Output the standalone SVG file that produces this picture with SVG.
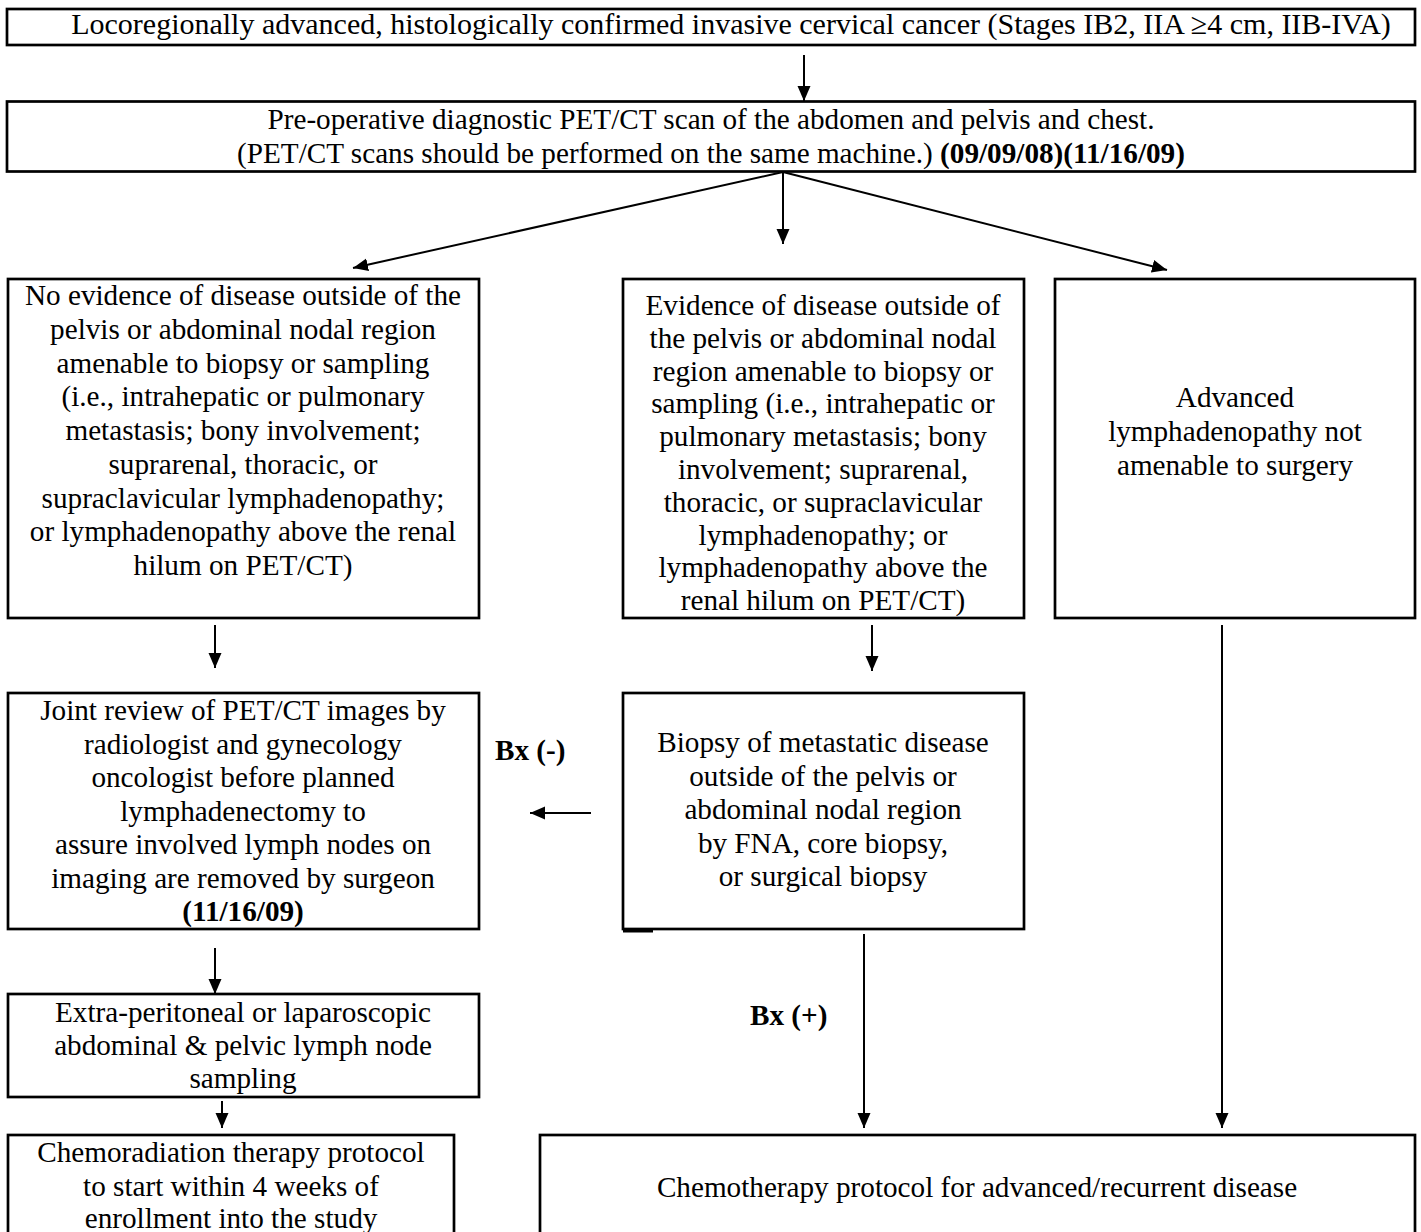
<svg xmlns="http://www.w3.org/2000/svg" width="1421" height="1232" viewBox="0 0 1421 1232">
<defs>
<marker id="ah" markerUnits="userSpaceOnUse" markerWidth="16" markerHeight="14" refX="15" refY="6.5" orient="auto">
<path d="M0,0 L15,6.5 L0,13 z" fill="#000"/>
</marker>
<style>
.box{fill:#fff;stroke:#000;stroke-width:2.7}
.t{font-family:"Liberation Serif","Times New Roman",serif;font-size:29.2px;fill:#000;text-anchor:middle}
.b{font-weight:bold}
.lb{font-family:"Liberation Serif","Times New Roman",serif;font-size:29.2px;font-weight:bold;fill:#000}
.c{stroke:#000;stroke-width:2;fill:none}
.a{marker-end:url(#ah)}
</style>
</defs>
<rect width="1421" height="1232" fill="#fff"/>
<g id="connectors">
<line class="c a" x1="804" y1="55" x2="804" y2="101"/>
<line class="c a" x1="783" y1="172" x2="353" y2="268"/>
<line class="c a" x1="783" y1="172" x2="783" y2="244"/>
<line class="c a" x1="783" y1="172" x2="1167" y2="270"/>
<line class="c a" x1="215" y1="625" x2="215" y2="668"/>
<line class="c a" x1="872" y1="625" x2="872" y2="671"/>
<line class="c a" x1="591" y1="813" x2="530" y2="813"/>
<line class="c a" x1="215" y1="948" x2="215" y2="994"/>
<line class="c a" x1="222" y1="1101" x2="222" y2="1128"/>
<line class="c a" x1="864" y1="934" x2="864" y2="1128"/>
<line class="c a" x1="1222" y1="625" x2="1222" y2="1128"/>
<text class="lb" x="495" y="760">Bx (-)</text>
<text class="lb" x="750" y="1025">Bx (+)</text>
</g>
<g id="n1">
<rect class="box" x="7" y="9" width="1408" height="36"/>
<text class="t" x="731" y="34" style="font-size:30px">Locoregionally advanced, histologically confirmed invasive cervical cancer (Stages IB2, IIA ≥4 cm, IIB-IVA)</text>
</g>
<g id="n2">
<rect class="box" x="7" y="101.5" width="1408" height="70"/>
<text class="t" x="711" y="129">Pre-operative diagnostic PET/CT scan of the abdomen and pelvis and chest.</text>
<text class="t" x="711" y="162.5">(PET/CT scans should be performed on the same machine.) <tspan class="b">(09/09/08)(11/16/09)</tspan></text>
</g>
<g id="n3">
<rect class="box" x="8" y="279" width="471" height="339"/>
<text class="t" x="243" y="305">No evidence of disease outside of the</text>
<text class="t" x="243" y="339">pelvis or abdominal nodal region</text>
<text class="t" x="243" y="373">amenable to biopsy or sampling</text>
<text class="t" x="243" y="406">(i.e., intrahepatic or pulmonary</text>
<text class="t" x="243" y="440">metastasis; bony involvement;</text>
<text class="t" x="243" y="474">suprarenal, thoracic, or</text>
<text class="t" x="243" y="508">supraclavicular lymphadenopathy;</text>
<text class="t" x="243" y="541">or lymphadenopathy above the renal</text>
<text class="t" x="243" y="575">hilum on PET/CT)</text>
</g>
<g id="n4">
<rect class="box" x="623" y="279" width="401" height="339"/>
<text class="t" x="823" y="315">Evidence of disease outside of</text>
<text class="t" x="823" y="348">the pelvis or abdominal nodal</text>
<text class="t" x="823" y="381">region amenable to biopsy or</text>
<text class="t" x="823" y="413">sampling (i.e., intrahepatic or</text>
<text class="t" x="823" y="446">pulmonary metastasis; bony</text>
<text class="t" x="823" y="479">involvement; suprarenal,</text>
<text class="t" x="823" y="512">thoracic, or supraclavicular</text>
<text class="t" x="823" y="545">lymphadenopathy; or</text>
<text class="t" x="823" y="577">lymphadenopathy above the</text>
<text class="t" x="823" y="610">renal hilum on PET/CT)</text>
</g>
<g id="n5">
<rect class="box" x="1055" y="279" width="360" height="339"/>
<text class="t" x="1235" y="407">Advanced</text>
<text class="t" x="1235" y="441">lymphadenopathy not</text>
<text class="t" x="1235" y="475">amenable to surgery</text>
</g>
<g id="n6">
<rect class="box" x="8" y="693" width="471" height="236"/>
<text class="t" x="243" y="720">Joint review of PET/CT images by</text>
<text class="t" x="243" y="753.5">radiologist and gynecology</text>
<text class="t" x="243" y="787">oncologist before planned</text>
<text class="t" x="243" y="820.5">lymphadenectomy to</text>
<text class="t" x="243" y="854">assure involved lymph nodes on</text>
<text class="t" x="243" y="887.5">imaging are removed by surgeon</text>
<text class="t b" x="243" y="921">(11/16/09)</text>
</g>
<g id="n7">
<rect class="box" x="623" y="693" width="401" height="236"/>
<line x1="623" y1="930.5" x2="653" y2="930.5" stroke="#000" stroke-width="4"/>
<text class="t" x="823" y="752">Biopsy of metastatic disease</text>
<text class="t" x="823" y="785.5">outside of the pelvis or</text>
<text class="t" x="823" y="819">abdominal nodal region</text>
<text class="t" x="823" y="852.5">by FNA, core biopsy,</text>
<text class="t" x="823" y="886">or surgical biopsy</text>
</g>
<g id="n8">
<rect class="box" x="8" y="994" width="471" height="103"/>
<text class="t" x="243" y="1022">Extra-peritoneal or laparoscopic</text>
<text class="t" x="243" y="1055">abdominal &amp; pelvic lymph node</text>
<text class="t" x="243" y="1088">sampling</text>
</g>
<g id="n9">
<rect class="box" x="8" y="1135" width="446" height="120"/>
<text class="t" x="231" y="1162">Chemoradiation therapy protocol</text>
<text class="t" x="231" y="1196">to start within 4 weeks of</text>
<text class="t" x="231" y="1228">enrollment into the study</text>
</g>
<g id="n10">
<rect class="box" x="540" y="1135" width="875" height="120"/>
<text class="t" x="977" y="1197">Chemotherapy protocol for advanced/recurrent disease</text>
</g>
</svg>
